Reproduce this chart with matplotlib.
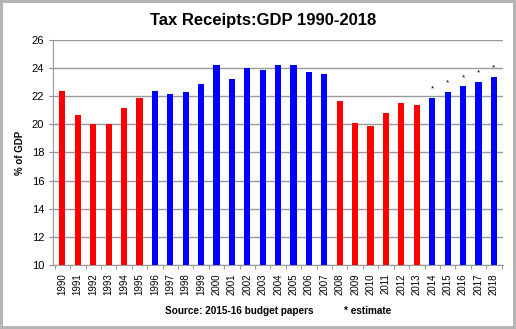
import matplotlib

matplotlib.use("Agg")
import matplotlib.pyplot as plt
import numpy as np

plt.rcParams["font.family"] = ["Liberation Sans", "DejaVu Sans"]

years = list(range(1990, 2019))
receipts = [22.4, 20.7, 20.0, 20.0, 21.2, 21.9, 22.4, 22.2, 22.3, 22.9,
            24.2, 23.2, 24.0, 23.9, 24.2, 24.2, 23.7, 23.6, 21.7, 20.1,
            19.9, 20.8, 21.5, 21.4, 21.9, 22.3, 22.7, 23.0, 23.4]
red_years = list(range(1990, 1996)) + list(range(2008, 2014))
estimate_years = [2014, 2015, 2016, 2017, 2018]

colors = ["#ff0000" if y in red_years else "#0000ff" for y in years]

fig = plt.figure(figsize=(5.16, 3.29), dpi=100)
fig.patch.set_edgecolor("#b5b5b5")
fig.patch.set_linewidth(3)
ax = fig.add_axes([0.103, 0.195, 0.872, 0.683])

x = np.arange(len(years))
ax.bar(x, receipts, 0.4, color=colors, zorder=3)

# asterisks over the estimated years
for i, y in enumerate(years):
    if y in estimate_years:
        ax.annotate("*", (x[i], receipts[i]), xytext=(0, 4), textcoords="offset points",
                    ha="center", va="bottom", fontsize=6)

ax.set_ylim(10, 26)
ax.set_xlim(-0.6, len(years) - 0.4)
ax.set_yticks(range(10, 27, 2))
ax.tick_params(axis="y", labelsize=8, direction="out", length=3, color="#888888")
ax.set_xticks(x)
ax.set_xticklabels([str(y) for y in years], rotation=90, fontsize=7)
ax.tick_params(axis="x", length=0, pad=6)
ax.set_xticks(np.arange(-0.5, len(years), 1), minor=True)
ax.tick_params(axis="x", which="minor", length=3, color="#888888")
ax.grid(axis="y", color="#999999", linewidth=1, zorder=0)
for side in ["top", "right"]:
    ax.spines[side].set_visible(False)
for side in ["left", "bottom"]:
    ax.spines[side].set_color("#999999")

ax.set_ylabel("% of GDP", fontsize=7, fontweight="bold")
ax.yaxis.set_label_coords(-0.062, 0.5)
fig.text(0.509, 0.939, "Tax Receipts:GDP 1990-2018", ha="center", va="center",
         fontsize=12, fontweight="bold")
fig.text(0.32, 0.055, "Source: 2015-16 budget papers", ha="left", va="center",
         fontsize=7.2, fontweight="bold")
fig.text(0.667, 0.055, "* estimate", ha="left", va="center",
         fontsize=7.2, fontweight="bold")

fig.savefig("out.png", dpi=100)
